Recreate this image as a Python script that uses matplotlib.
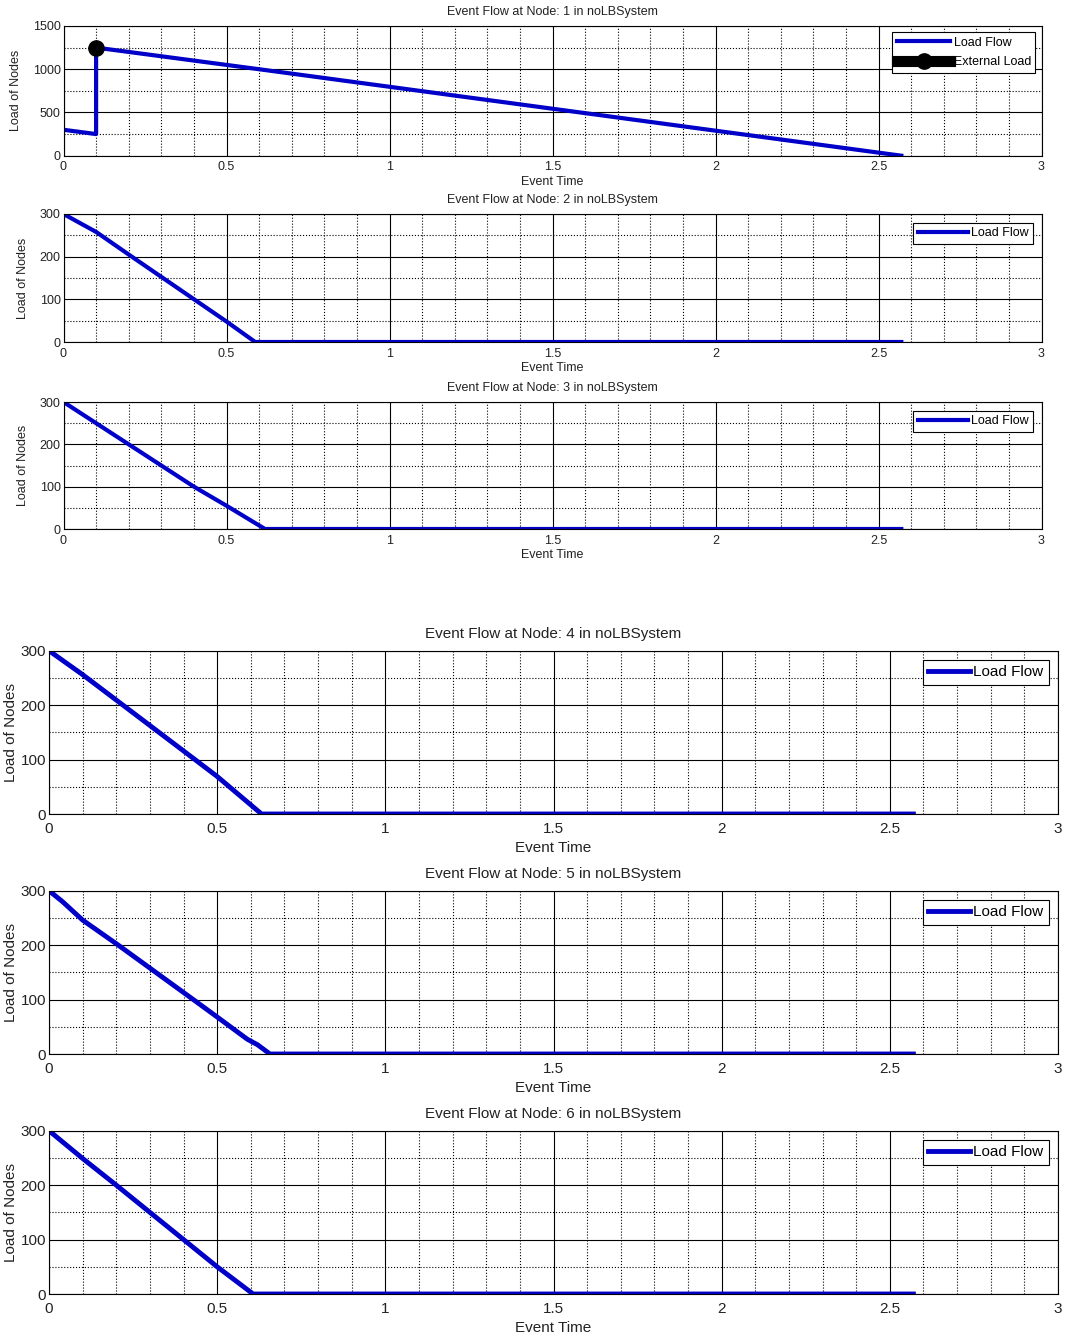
import matplotlib
matplotlib.use('Agg')
import matplotlib.pyplot as plt
import numpy as np
from matplotlib.ticker import MultipleLocator

# data
x_ticks = [0, 0.5, 1, 1.5, 2, 2.5, 3]
x_labels = ['0', '0.5', '1', '1.5', '2', '2.5', '3']

node1_t = [0, 0.1, 0.1, 0.6, 2.57]
node1_load = [300, 250, 1250, 1000, 0]
ext_t = [0.1]
ext_load = [1250]

node2_t = [0, 0.1, 0.2, 0.5, 0.588, 2.57]
node2_load = [300, 258, 205, 48, 0, 0]

node3_t = [0, 0.1, 0.2, 0.4, 0.5, 0.618, 2.57]
node3_load = [300, 250, 200, 100, 55, 0, 0]

node4_t = [0, 0.1, 0.22, 0.434, 0.5, 0.632, 2.57]
node4_load = [300, 256, 200, 100, 69, 0, 0]

node5_t = [0, 0.04, 0.1, 0.206, 0.429, 0.5, 0.59, 0.62, 0.657, 2.57]
node5_load = [300, 280, 246, 200, 100, 68, 27, 17, 0, 0]

node6_t = [0, 0.1, 0.2, 0.4, 0.5, 0.607, 2.57]
node6_load = [300, 249, 200, 100, 50, 0, 0]

W, H = 1065, 1341
fig = plt.figure(figsize=(W / 100, H / 100), dpi=100)
fig.patch.set_facecolor('white')

blue = '#0000c8'
txt = '#222222'


def make_ax(left, right, top, bottom):
    return fig.add_axes([left / W, 1 - bottom / H, (right - left) / W, (bottom - top) / H])


def style(ax, node, ymax, ymajor, yminor, fs, fam, title_pad, tick_pad, label_pad, ylab_pad):
    ax.set_xlim(0, 3)
    ax.set_ylim(0, ymax)
    ax.set_xticks(x_ticks)
    ax.set_xticklabels(x_labels)
    ax.yaxis.set_major_locator(MultipleLocator(ymajor))
    ax.xaxis.set_minor_locator(MultipleLocator(0.1))
    ax.yaxis.set_minor_locator(MultipleLocator(yminor))
    ax.grid(which='major', color='black', linestyle='-', linewidth=0.8)
    ax.grid(which='minor', color='black', linestyle=':', linewidth=0.8)
    ax.set_axisbelow(True)
    ax.tick_params(which='both', length=0, labelsize=fs, colors=txt)
    ax.tick_params(axis='x', pad=tick_pad)
    ax.tick_params(axis='y', pad=2)
    for lab in ax.get_xticklabels() + ax.get_yticklabels():
        lab.set_family(fam)
    for s in ax.spines.values():
        s.set_color('black')
        s.set_linewidth(0.8)
    ax.set_title(f'Event Flow at Node: {node} in noLBSystem', fontsize=fs,
                 family=fam, pad=title_pad, color=txt)
    ax.set_xlabel('Event Time', fontsize=fs, family=fam, labelpad=label_pad, color=txt)
    ax.set_ylabel('Load of Nodes', fontsize=fs, family=fam, labelpad=ylab_pad, color=txt)


def add_legend(ax, fam, fs, hl, pad_ax, spacing=0.35):
    leg = ax.legend(loc='upper right', prop={'family': fam, 'size': fs},
                    handlelength=hl, fancybox=False, edgecolor='black', framealpha=1,
                    borderaxespad=pad_ax, borderpad=0.35, labelspacing=spacing,
                    handletextpad=0.25)
    leg.get_frame().set_linewidth(0.8)


small = ['Liberation Sans', 'DejaVu Sans']
big = ['Liberation Sans', 'DejaVu Sans']

# first figure (nodes 1-3)
ax1 = make_ax(63.5, 1041.5, 26, 155.7)
ax1.plot(node1_t, node1_load, color=blue, lw=3, label='Load Flow')
ax1.plot(ext_t, ext_load, color='black', lw=8, marker='o', markersize=11, label='External Load')
style(ax1, 1, 1500, 500, 250, 9, small, 8, 4, 2, 8)
add_legend(ax1, small, 9, 4.3, 0.5, spacing=0.6)

ax2 = make_ax(63.5, 1041.5, 214, 342)
ax2.plot(node2_t, node2_load, color=blue, lw=3, label='Load Flow')
style(ax2, 2, 300, 100, 50, 9, small, 8, 4, 2, 8)
add_legend(ax2, small, 9, 4.0, 0.7)

ax3 = make_ax(63.5, 1041.5, 402, 529)
ax3.plot(node3_t, node3_load, color=blue, lw=3, label='Load Flow')
style(ax3, 3, 300, 100, 50, 9, small, 8, 4, 2, 8)
add_legend(ax3, small, 9, 4.0, 0.7)

# second figure (nodes 4-6)
nodes_b = [(4, node4_t, node4_load, 650.7, 814),
           (5, node5_t, node5_load, 890.7, 1054),
           (6, node6_t, node6_load, 1130.7, 1294)]
for node, t, load, top, bottom in nodes_b:
    ax = make_ax(49, 1058, top, bottom)
    ax.plot(t, load, color=blue, lw=3.5, label='Load Flow')
    style(ax, node, 300, 100, 50, 11, big, 9, 6, 3, 2)
    add_legend(ax, big, 11, 2.7, 0.6)

fig.savefig('out.png', dpi=100)
